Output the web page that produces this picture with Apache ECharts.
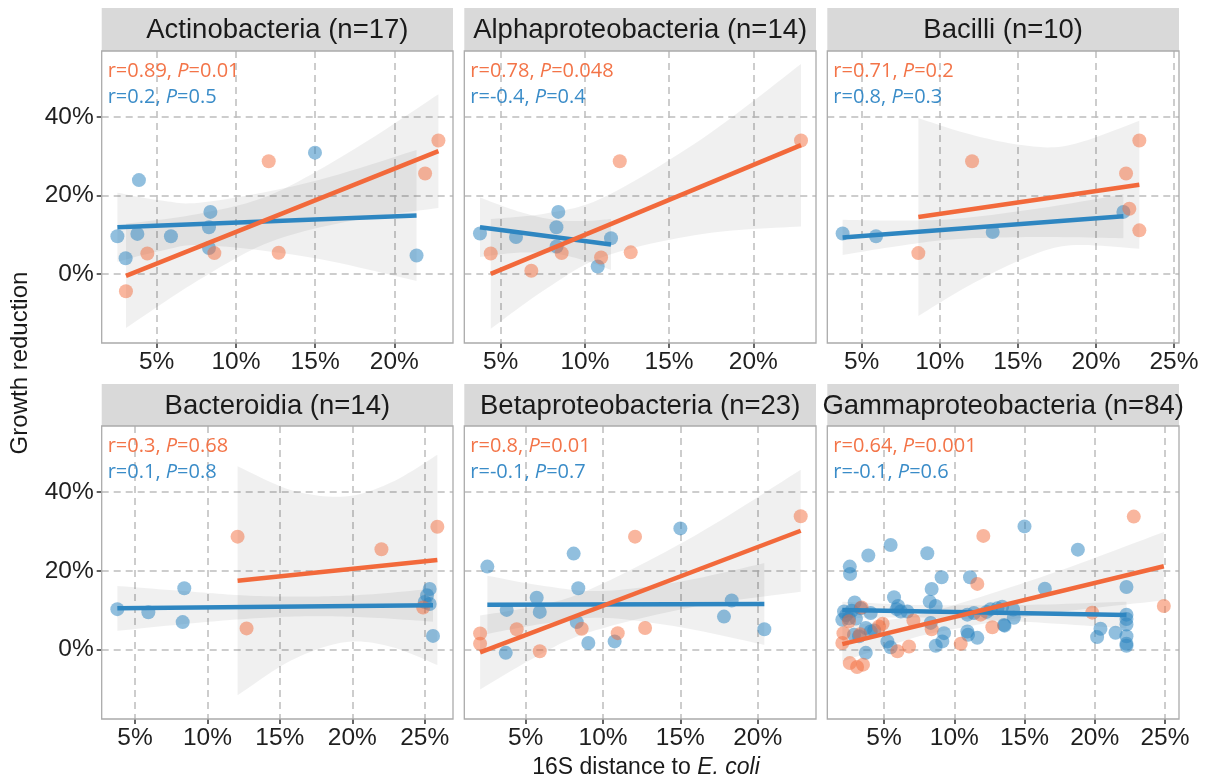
<!DOCTYPE html>
<html>
<head>
<meta charset="utf-8">
<script src="https://cdn.jsdelivr.net/npm/echarts@6/dist/echarts.min.js"></script>
<style>
  html, body { margin: 0; padding: 0; background: #ffffff; }
  #chart { width: 1209px; height: 783px; }
</style>
</head>
<body>
<div id="chart"></div>
<script>
// ---- Panel titles and statistics ----
const panelTitles = [
  'Actinobacteria (n=17)', 'Alphaproteobacteria (n=14)', 'Bacilli (n=10)',
  'Bacteroidia (n=14)', 'Betaproteobacteria (n=23)', 'Gammaproteobacteria (n=84)'
];
const rOrange = ['0.89', '0.78', '0.71', '0.3', '0.8', '0.64'];
const pOrange = ['0.01', '0.048', '0.2', '0.68', '0.01', '0.001'];
const rBlue = ['0.2', '-0.4', '0.8', '0.1', '-0.1', '-0.1'];
const pBlue = ['0.5', '0.4', '0.3', '0.8', '0.7', '0.6'];

// ---- Axis ranges (percent) and tick labels ----
const xRanges = [[1.53, 23.7], [2.84, 23.72], [2.80, 25.32], [2.70, 26.95], [1.03, 23.77], [0.96, 26.0]];
const xTicks = [[5, 10, 15, 20], [5, 10, 15, 20], [5, 10, 15, 20, 25], [5, 10, 15, 20, 25], [5, 10, 15, 20], [5, 10, 15, 20, 25]];
const yRange = [-17.6, 56.8];
const yTicks = [0, 20, 40];

// ---- Points: [16S distance %, growth reduction %] ----
const actinoOrange = [[3.06, -4.4], [4.41, 5.2], [8.64, 5.3], [12.07, 28.7], [12.70, 5.4], [21.94, 25.6], [22.78, 34.0]];
const actinoBlue = [[2.52, 9.6], [3.04, 4.0], [3.88, 23.9], [3.78, 10.2], [5.90, 9.6], [8.39, 15.8], [8.30, 11.9], [8.30, 6.6], [14.99, 30.9], [21.40, 4.7]];

const alphaOrange = [[4.41, 5.2], [6.82, 0.8], [8.62, 5.3], [10.96, 4.2], [12.07, 28.7], [12.72, 5.5], [22.83, 34.0]];
const alphaBlue = [[3.77, 10.3], [5.91, 9.4], [8.42, 15.8], [8.31, 11.9], [8.32, 7.0], [11.55, 9.1], [10.76, 1.9]];

const bacilliOrange = [[8.63, 5.3], [12.07, 28.7], [21.93, 25.6], [22.14, 16.6], [22.78, 34.0], [22.78, 11.1]];
const bacilliBlue = [[3.78, 10.3], [5.92, 9.6], [13.39, 10.7], [21.76, 15.8]];

const bacteroOrange = [[12.08, 28.7], [12.70, 5.4], [22.01, 25.5], [24.89, 10.7], [25.87, 31.2]];
const bacteroBlue = [[3.78, 10.3], [5.92, 9.5], [8.40, 15.6], [8.29, 7.0], [25.34, 15.4], [25.16, 13.8], [25.0, 12.1], [25.34, 11.6], [25.57, 3.5]];

const betaOrange = [[2.05, 4.1], [2.05, 1.5], [4.42, 5.2], [5.91, -0.4], [8.62, 5.3], [10.95, 4.2], [12.07, 28.7], [12.72, 5.5], [22.78, 33.9]];
const betaBlue = [[2.52, 21.1], [3.77, 10.1], [3.71, -0.8], [5.71, 13.2], [5.91, 9.6], [8.10, 24.4], [8.40, 15.6], [8.30, 7.0], [9.05, 1.7], [10.75, 2.1], [15.0, 30.8], [17.82, 8.4], [18.32, 12.5], [20.43, 5.2]];

const gammaOrange = [[2.03, 1.7], [2.11, 4.2], [2.50, 7.2], [2.56, -3.4], [3.08, -4.4], [3.50, -3.8], [3.40, 10.7], [3.30, 3.9],
  [4.64, 5.9], [4.90, 6.6], [5.95, -0.4], [6.78, 0.8], [7.09, 7.4], [8.39, 5.2], [10.46, 1.5], [11.64, 16.7],
  [11.88, 8.9], [12.07, 28.9], [12.71, 5.7], [19.82, 9.4], [22.78, 33.8], [24.92, 11.1]];
const gammaBlue = [[5.47, 26.6], [3.88, 23.9], [8.08, 24.5], [2.56, 21.1], [2.58, 19.2], [9.10, 18.4], [11.12, 18.4], [8.39, 15.4],
  [5.71, 13.3], [8.25, 12.2], [8.68, 11.1], [2.91, 12.0], [6.00, 11.1], [2.15, 9.7], [2.03, 7.6], [2.50, 8.0],
  [3.34, 10.5], [4.05, 9.3], [6.19, 9.7], [6.66, 9.7], [8.32, 6.8], [9.27, 4.2], [9.15, 2.1], [8.68, 1.0],
  [5.24, 2.1], [5.47, 0.6], [3.70, -0.8], [3.70, 5.5], [2.86, 3.8], [3.22, 3.4], [4.05, 4.6], [10.93, 4.6],
  [10.98, 3.8], [11.64, 3.0], [10.93, 8.9], [11.40, 9.3], [12.59, 10.3], [13.07, 10.5], [13.54, 6.3], [4.30, 4.9],
  [15.0, 31.3], [18.8, 25.4], [16.45, 15.5], [22.26, 15.9], [13.41, 10.9], [14.19, 10.2], [14.24, 8.1], [13.58, 6.1],
  [20.41, 5.3], [20.17, 3.2], [21.48, 4.3], [22.26, 8.9], [22.26, 7.8], [22.26, 6.4], [22.26, 3.4], [22.26, 1.5],
  [22.26, 1.0], [2.30, 8.8], [2.70, 9.9], [3.00, 7.9], [5.90, 10.3], [12.30, 9.6]];

// ---- Fitted lines: end points [x, y] ----
const actinoFitOrange = [[3.06, -0.5], [22.78, 31.3]];
const actinoFitBlue = [[2.52, 11.9], [21.40, 14.9]];
const alphaFitOrange = [[4.41, 0.0], [22.83, 32.8]];
const alphaFitBlue = [[3.77, 11.9], [11.55, 7.5]];
const bacilliFitOrange = [[8.63, 14.5], [22.78, 22.7]];
const bacilliFitBlue = [[3.78, 9.3], [21.76, 14.7]];
const bacteroFitOrange = [[12.08, 17.5], [25.87, 22.8]];
const bacteroFitBlue = [[3.78, 10.5], [25.57, 11.3]];
const betaFitOrange = [[2.05, -0.7], [22.78, 30.2]];
const betaFitBlue = [[2.52, 11.4], [20.43, 11.6]];
const gammaFitOrange = [[2.03, 1.4], [24.92, 21.2]];
const gammaFitBlue = [[2.03, 10.1], [22.26, 8.8]];

// ---- Confidence bands: [x, lower, upper] ----
const actinoBandOrange = [[3.06, -13.8, 12.8], [7.6, -1.7, 15.3], [12.2, 8.2, 20.2], [17.5, 13.7, 31.9], [22.78, 16.8, 45.8]];
const actinoBandBlue = [[2.52, 3.1, 20.7], [5.3, 5.9, 18.7], [8.05, 7.3, 18.3], [14.7, 4.2, 23.4], [21.4, -1.8, 31.6]];
const alphaBandOrange = [[4.41, -14.0, 14.0], [7.8, -3.5, 15.5], [11.2, 4.5, 19.7], [17.0, 10.2, 34.6], [22.83, 12.1, 53.5]];
const alphaBandBlue = [[3.77, 4.3, 19.5], [6.0, 5.4, 16.0], [8.15, 5.2, 13.8], [10.0, 3.4, 13.5], [11.55, 1.0, 14.0]];
const bacilliBandOrange = [[8.63, -10.7, 39.7], [12.0, -2.7, 35.5], [15.5, 4.1, 32.7], [18.4, 7.3, 32.9], [22.78, 6.4, 39.0]];
const bacilliBandBlue = [[3.78, 4.8, 13.8], [7.5, 7.2, 13.6], [11.2, 8.9, 14.1], [16.5, 9.4, 16.8], [21.76, 9.1, 20.3]];
const bacteroBandOrange = [[12.08, -11.6, 46.6], [15.8, -2.7, 40.5], [19.5, 1.9, 38.9], [22.7, 0.7, 42.5], [25.87, -3.9, 49.5]];
const bacteroBandBlue = [[3.78, 4.8, 16.2], [9.0, 6.7, 14.7], [13.0, 7.9, 13.7], [17.0, 8.5, 13.5], [21.0, 8.2, 14.0], [25.57, 7.1, 15.5]];
const betaBandOrange = [[2.05, -10.1, 8.7], [5.5, -2.2, 11.0], [9.06, 4.35, 15.15], [15.9, 10.9, 28.9], [22.78, 14.7, 45.7]];
const betaBandBlue = [[2.52, 4.0, 18.8], [6.0, 6.5, 16.3], [9.84, 8.1, 14.9], [15.0, 5.7, 17.3], [20.43, 1.2, 22.0]];
const gammaBandOrange = [[2.03, -3.0, 5.8], [5.4, 1.0, 7.6], [8.72, 4.4, 10.0], [16.8, 9.2, 19.2], [24.92, 12.5, 29.9]];
const gammaBandBlue = [[2.03, 8.0, 12.2], [5.2, 8.15, 11.65], [8.5, 8.1, 11.3], [15.4, 7.0, 11.4], [22.26, 5.4, 12.2]];

// ---- Panel table built from the arrays above ----
const panels = [
  { orange: actinoOrange, blue: actinoBlue, fitO: actinoFitOrange, fitB: actinoFitBlue, bandO: actinoBandOrange, bandB: actinoBandBlue },
  { orange: alphaOrange, blue: alphaBlue, fitO: alphaFitOrange, fitB: alphaFitBlue, bandO: alphaBandOrange, bandB: alphaBandBlue },
  { orange: bacilliOrange, blue: bacilliBlue, fitO: bacilliFitOrange, fitB: bacilliFitBlue, bandO: bacilliBandOrange, bandB: bacilliBandBlue },
  { orange: bacteroOrange, blue: bacteroBlue, fitO: bacteroFitOrange, fitB: bacteroFitBlue, bandO: bacteroBandOrange, bandB: bacteroBandBlue },
  { orange: betaOrange, blue: betaBlue, fitO: betaFitOrange, fitB: betaFitBlue, bandO: betaBandOrange, bandB: betaBandBlue },
  { orange: gammaOrange, blue: gammaBlue, fitO: gammaFitOrange, fitB: gammaFitBlue, bandO: gammaBandOrange, bandB: gammaBandBlue }
];

// ---- Layout (pixels) ----
const colLeft = [101.7, 464.3, 827.3];
const colWidth = [351.3, 351.7, 351.7];
const rowTop = [51, 426];
const rowHeight = [292, 293];
const stripTop = [8, 384];

const ORANGE_LINE = '#F2693B';
const BLUE_LINE = '#2E86C1';
const ORANGE_PT = 'rgba(242,107,58,0.62)';
const BLUE_PT = 'rgba(46,134,193,0.66)';
const ORANGE_TXT = '#F37448';
const BLUE_TXT = '#3A8CC8';
const GRID_LINE = { color: '#BDBDBD', width: 1.5, type: [7, 5] };
const TICK_LINE = { color: '#333333', width: 1.5 };
const SANS = '"Liberation Sans", Arial, Helvetica, sans-serif';
const LABEL_SANS = '"Open Sans", "Noto Sans", sans-serif';

// Catmull-Rom sampling of an outline so the band edges render as smooth curves
function sampleCurve(pts) {
  const out = [];
  const steps = 12;
  for (let k = 0; k < pts.length - 1; k++) {
    const p0 = pts[Math.max(k - 1, 0)], p1 = pts[k], p2 = pts[k + 1], p3 = pts[Math.min(k + 2, pts.length - 1)];
    for (let s = 0; s < steps; s++) {
      const t = s / steps, t2 = t * t, t3 = t2 * t;
      const c = (a0, a1, a2, a3) => 0.5 * (2 * a1 + (-a0 + a2) * t + (2 * a0 - 5 * a1 + 4 * a2 - a3) * t2 + (-a0 + 3 * a1 - 3 * a2 + a3) * t3);
      out.push([c(p0[0], p1[0], p2[0], p3[0]), c(p0[1], p1[1], p2[1], p3[1])]);
    }
  }
  out.push(pts[pts.length - 1]);
  return out;
}

function bandSeries(i, band) {
  return {
    type: 'custom',
    xAxisIndex: i, yAxisIndex: i,
    silent: true,
    z: 1,
    data: [[band[0][0], band[0][1]]],
    renderItem: function (params, api) {
      const upper = band.map(r => api.coord([r[0], r[2]]));
      const lower = band.map(r => api.coord([r[0], r[1]])).reverse();
      const pts = sampleCurve(upper).concat(sampleCurve(lower));
      return { type: 'polygon', shape: { points: pts }, style: { fill: 'rgba(0,0,0,0.058)' } };
    }
  };
}

const grids = [], xAxes = [], yAxes = [], series = [], graphics = [];

panels.forEach((p, i) => {
  const row = Math.floor(i / 3), col = i % 3;
  const left = colLeft[col], top = rowTop[row], width = colWidth[col], height = rowHeight[row];
  grids.push({ left: left, top: top, width: width, height: height, containLabel: false });

  xAxes.push({
    gridIndex: i, type: 'value', position: 'bottom', min: xRanges[i][0], max: xRanges[i][1],
    minInterval: 5, maxInterval: 5, splitNumber: 4,
    axisLine: { show: false, onZero: false },
    axisTick: { show: true, inside: false, length: 5, customValues: xTicks[i], lineStyle: TICK_LINE },
    axisLabel: { show: true, customValues: xTicks[i], formatter: '{value}%', fontSize: 24.5, color: '#1f1f1f', fontFamily: SANS, margin: 7 },
    splitLine: { show: true, interval: 0, lineStyle: GRID_LINE }
  });
  yAxes.push({
    gridIndex: i, type: 'value', position: 'left', min: yRange[0], max: yRange[1],
    minInterval: 20, maxInterval: 20, splitNumber: 3,
    axisLine: { show: false, onZero: false },
    axisTick: { show: col === 0, inside: false, length: 5, customValues: yTicks, lineStyle: TICK_LINE },
    axisLabel: { show: col === 0, customValues: yTicks, formatter: '{value}%', fontSize: 24.5, color: '#1f1f1f', fontFamily: SANS, margin: 8 },
    splitLine: { show: true, interval: 0, lineStyle: GRID_LINE }
  });

  series.push(bandSeries(i, p.bandO));
  series.push(bandSeries(i, p.bandB));
  series.push({
    type: 'scatter', xAxisIndex: i, yAxisIndex: i, data: p.blue, symbolSize: 14, z: 3,
    itemStyle: { color: BLUE_PT }, silent: true
  });
  series.push({
    type: 'scatter', xAxisIndex: i, yAxisIndex: i, data: p.orange, symbolSize: 14, z: 4,
    itemStyle: { color: ORANGE_PT }, silent: true
  });
  series.push({
    type: 'line', xAxisIndex: i, yAxisIndex: i, data: p.fitB, showSymbol: false, z: 5,
    lineStyle: { color: BLUE_LINE, width: 4.5 }, silent: true
  });
  series.push({
    type: 'line', xAxisIndex: i, yAxisIndex: i, data: p.fitO, showSymbol: false, z: 6,
    lineStyle: { color: ORANGE_LINE, width: 4.5 }, silent: true
  });

  // strip header
  graphics.push({
    type: 'rect', z: 10,
    shape: { x: left, y: stripTop[row], width: width, height: top - stripTop[row] },
    style: { fill: '#D9D9D9' }
  });
  graphics.push({
    type: 'text', z: 11, x: left + width / 2, y: (stripTop[row] + top) / 2 + 1,
    style: { text: panelTitles[i], fill: '#1a1a1a', fontSize: 27.5, fontFamily: SANS, textAlign: 'center', textVerticalAlign: 'middle' }
  });
  // panel border
  graphics.push({
    type: 'rect', z: 12,
    shape: { x: left, y: top, width: width, height: height },
    style: { fill: 'none', stroke: '#ABABAB', lineWidth: 1.3 }
  });
  // correlation labels
  const statLine = (r, pv, color, dy) => ({
    type: 'text', z: 11, x: left + 6, y: top + dy,
    style: {
      text: '{a|r=' + r + ', }{b|P}{a|=' + pv + '}',
      textVerticalAlign: 'middle',
      rich: {
        a: { fill: color, fontSize: 20, fontFamily: LABEL_SANS },
        b: { fill: color, fontSize: 20, fontFamily: LABEL_SANS, fontStyle: 'italic' }
      }
    }
  });
  graphics.push(statLine(rOrange[i], pOrange[i], ORANGE_TXT, 20));
  graphics.push(statLine(rBlue[i], pBlue[i], BLUE_TXT, 46));
});

// axis titles
graphics.push({
  type: 'text', z: 11, x: 20, y: 363, rotation: Math.PI / 2,
  style: { text: 'Growth reduction', fill: '#1a1a1a', fontSize: 24, fontFamily: SANS, textAlign: 'center', textVerticalAlign: 'middle' }
});
graphics.push({
  type: 'text', z: 11, x: 646, y: 768,
  style: {
    text: '{a|16S distance to }{b|E. coli}',
    textAlign: 'center', textVerticalAlign: 'middle',
    rich: {
      a: { fill: '#1a1a1a', fontSize: 23, fontFamily: SANS },
      b: { fill: '#1a1a1a', fontSize: 23, fontFamily: SANS, fontStyle: 'italic' }
    }
  }
});

const chart = echarts.init(document.getElementById('chart'), null, { renderer: 'canvas' });
chart.setOption({
  animation: false,
  backgroundColor: '#ffffff',
  grid: grids,
  xAxis: xAxes,
  yAxis: yAxes,
  series: series,
  graphic: graphics
});
</script>
</body>
</html>
